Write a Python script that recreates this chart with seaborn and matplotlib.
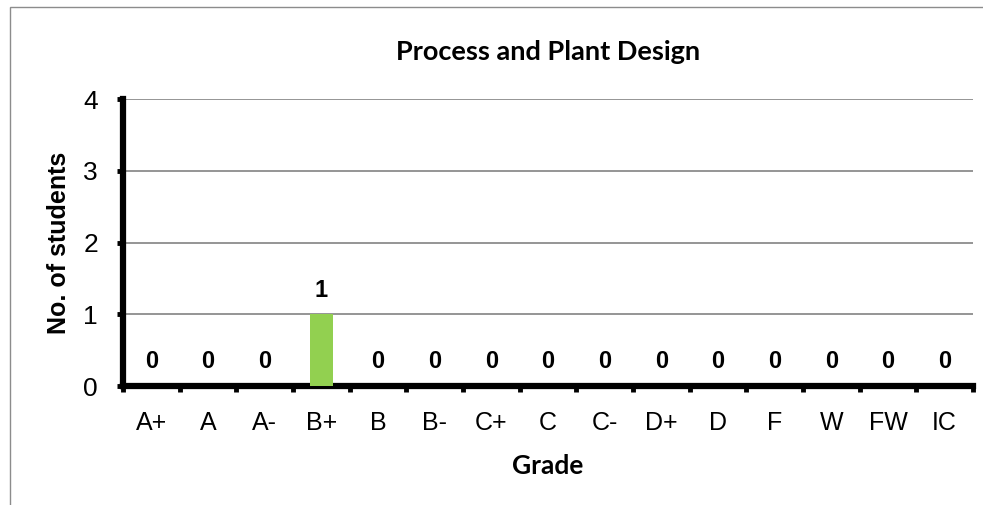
import seaborn as sns
import matplotlib.pyplot as plt
import matplotlib.patches as mpatches
import numpy as np
import pandas as pd

# grade distribution
grades = ["A+", "A", "A-", "B+", "B", "B-", "C+", "C", "C-", "D+", "D", "F", "W", "FW", "IC"]
students = [0, 0, 0, 1, 0, 0, 0, 0, 0, 0, 0, 0, 0, 0, 0]
title = "Process and Plant Design"

df = pd.DataFrame({"Grade": grades, "Students": students})

sns.set_theme(style="white")
plt.rcParams['font.family'] = ['Liberation Sans', 'DejaVu Sans']
plt.rcParams['text.color'] = 'black'
plt.rcParams['axes.labelcolor'] = 'black'
plt.rcParams['xtick.color'] = 'black'
plt.rcParams['ytick.color'] = 'black'

fig = plt.figure(figsize=(9.83, 5.05), dpi=100)
ax = fig.add_axes([123 / 983, 1 - 386 / 505, 850 / 983, 287 / 505])

sns.barplot(data=df, x="Grade", y="Students", color="#92D050", saturation=1,
            width=0.41, linewidth=0, ax=ax, zorder=3)

# value labels above bars
for i, v in enumerate(students):
    ax.annotate(str(v), (i, v), xytext=(0, 9), textcoords="offset points",
                ha="center", va="bottom", fontsize=17, fontweight="bold")

ax.set_ylim(0, 4)
ax.set_xlim(-0.5, len(grades) - 0.5)
ax.set_yticks([0, 1, 2, 3, 4])
ax.yaxis.grid(True, color="#8c8c8c", linewidth=1.3, zorder=0)
ax.set_axisbelow(True)

# ticks on category boundaries, labels on centers
ax.set_xticks(np.arange(-0.5, len(grades), 1.0))
ax.set_xticklabels([])
ax.set_xticks(np.arange(len(grades)), minor=True)
ax.set_xticklabels(grades, minor=True, fontsize=18)
ax.tick_params(axis="x", which="major", bottom=True, direction="out", length=4, width=3.5)
ax.tick_params(axis="x", which="minor", bottom=True, length=0, pad=18)
ax.tick_params(axis="y", left=True, direction="out", length=4, width=3.5, labelsize=19, pad=14)

for side in ["top", "right"]:
    ax.spines[side].set_visible(False)
for side in ["left", "bottom"]:
    ax.spines[side].set_color("black")
    ax.spines[side].set_linewidth(4.5)

ax.set_xlabel("Grade", family=["Lato", "DejaVu Sans"], fontsize=19, fontweight="bold", labelpad=14)
ax.set_ylabel("No. of students", fontsize=18, fontweight="bold", labelpad=9)
ax.set_title(title, family=["Lato", "DejaVu Sans"], fontsize=19.5, fontweight="bold", pad=28)

# chart area border
fig.patches.append(mpatches.Rectangle((10 / 983, -0.1), 1.1, 1 - 7 / 505 + 0.1,
                                      transform=fig.transFigure, fill=False,
                                      edgecolor="#8c8c8c", linewidth=1))

fig.savefig("out.png", dpi=100)
